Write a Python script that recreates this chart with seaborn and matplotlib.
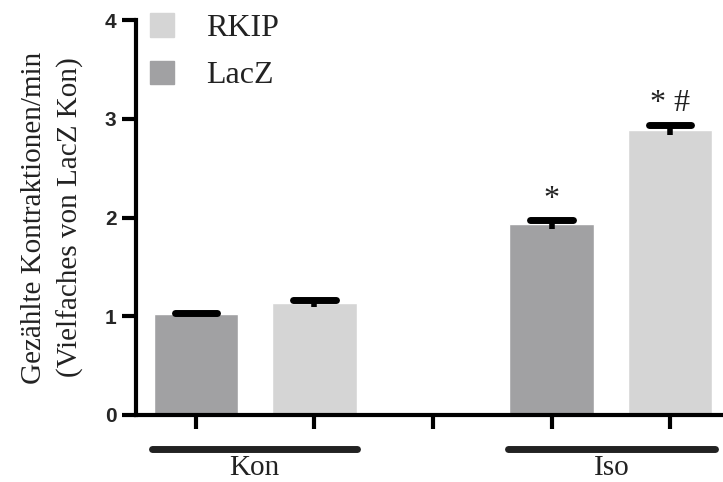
import matplotlib
matplotlib.use("Agg")
import matplotlib.pyplot as plt
import matplotlib.patches as mpatches
import seaborn as sns
import pandas as pd
import numpy as np

# data
conditions = ["Kon", "Kon", "Iso", "Iso"]
viruses = ["LacZ", "RKIP", "LacZ", "RKIP"]
means = [1.02, 1.13, 1.93, 2.89]
sems = [0.015, 0.035, 0.045, 0.05]
bar_slots = ["Kon LacZ", "Kon RKIP", "gap", "Iso LacZ", "Iso RKIP"]
group_labels = ["Kon", "Iso"]
sig_marks = {"Iso LacZ": "*", "Iso RKIP": "* #"}

colors = {"LacZ": "#a1a1a3", "RKIP": "#d5d5d5"}

df = pd.DataFrame({
    "slot": [c + " " + v for c, v in zip(conditions, viruses)],
    "virus": viruses,
    "mean": means,
    "sem": sems,
})

sns.set_style("ticks")
plt.rcParams["font.family"] = ["Liberation Serif", "DejaVu Serif"]

fig = plt.figure(figsize=(7.23, 4.82), dpi=100)
ax = fig.add_axes([136 / 723, 1 - 415 / 482, 1 - 136 / 723, (415 - 20) / 482])

sns.barplot(data=df, x="slot", y="mean", hue="virus", order=bar_slots,
            palette=colors, dodge=False, width=0.71, errorbar=None,
            saturation=1, legend=False, ax=ax)

# error bars on top of bars
xpos = [bar_slots.index(s) for s in df["slot"]]
ax.errorbar(xpos, df["mean"], yerr=df["sem"], fmt="none", ecolor="black",
            elinewidth=4, capsize=0, zorder=5)
for x, m, s in zip(xpos, df["mean"], df["sem"]):
    ax.plot([x - 0.18, x + 0.18], [m + s, m + s], color="black", lw=5,
            solid_capstyle="round", zorder=6)

# significance marks
for slot, txt in sig_marks.items():
    i = bar_slots.index(slot)
    row = df[df["slot"] == slot].iloc[0]
    ax.text(i, row["mean"] + row["sem"] + 0.21, txt, ha="center", va="center",
            fontsize=23, color="#222222")

ax.set_ylim(0, 4)
ax.set_xlim(-0.506, 4.447)
ax.set_yticks([0, 1, 2, 3, 4])
ax.set_yticklabels(["0", "1", "2", "3", "4"], fontfamily="Liberation Sans",
                   fontweight="bold", fontsize=15)
ax.set_xticks(range(len(bar_slots)))
ax.set_xticklabels([""] * len(bar_slots))
ax.tick_params(axis="both", direction="out", width=3, length=10, color="black")
ax.tick_params(axis="y", pad=4)
for sp in ["top", "right"]:
    ax.spines[sp].set_visible(False)
for sp in ["left", "bottom"]:
    ax.spines[sp].set_linewidth(3)
    ax.spines[sp].set_color("black")
ax.set_xlabel("")
ax.set_ylabel("Gezählte Kontraktionen/min\n(Vielfaches von LacZ Kon)",
              fontsize=21, linespacing=1.45, labelpad=15, color="#222222")

# group bars under the axis
groups = [(-0.37, 1.36), (2.63, 4.38)]
for (x0, x1), lab in zip(groups, group_labels):
    ax.plot([x0, x1], [-0.344, -0.344], color="#222222", lw=5,
            solid_capstyle="round", clip_on=False)
    ax.text((x0 + x1) / 2, -0.535, lab, ha="center", va="center", fontsize=21,
            color="#222222")

handles = [mpatches.Patch(color=colors["RKIP"], label="RKIP"),
           mpatches.Patch(color=colors["LacZ"], label="LacZ")]
leg = ax.legend(handles=handles, loc="upper left", bbox_to_anchor=(-0.025, 1.09),
                frameon=False, fontsize=23, handlelength=0.75, handleheight=0.75,
                handletextpad=1.0, labelspacing=0.55)
for t in leg.get_texts():
    t.set_color("#222222")

fig.savefig("out.png", dpi=100)
